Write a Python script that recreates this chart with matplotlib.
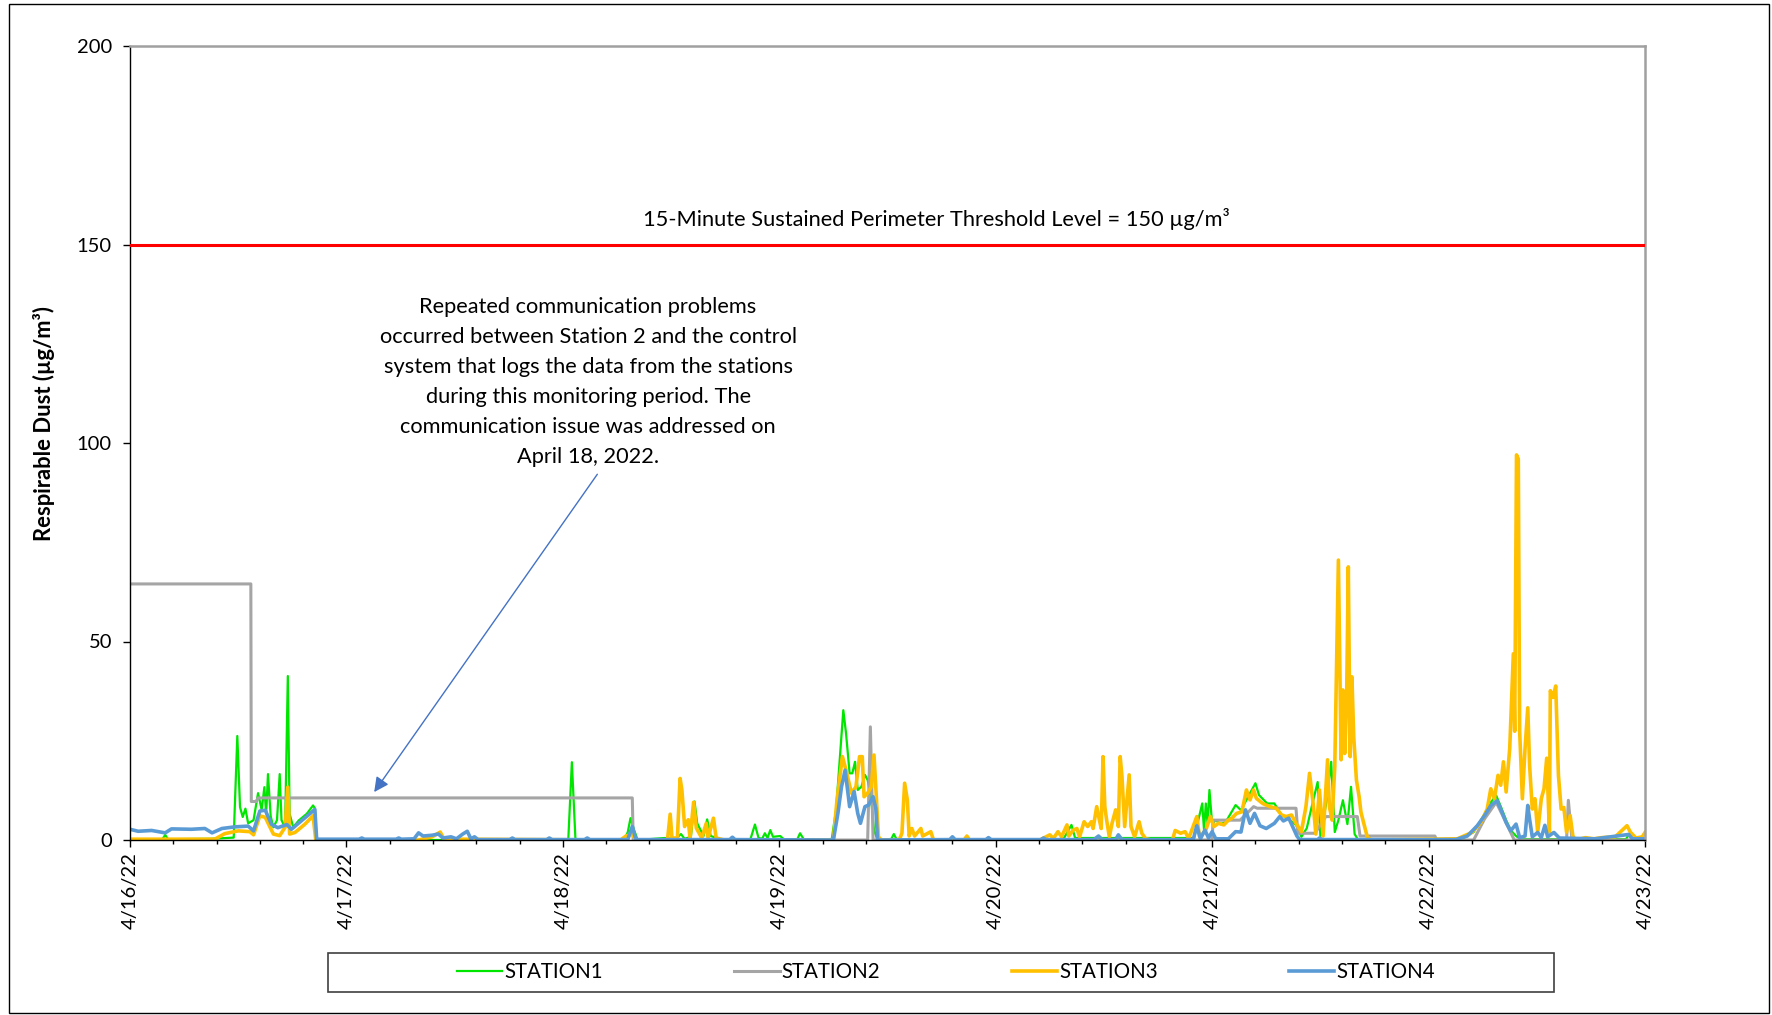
import matplotlib
matplotlib.use('Agg')
import matplotlib.pyplot as plt
from matplotlib.patches import Rectangle
from matplotlib.ticker import MultipleLocator

plt.rcParams['font.family'] = ['Lato', 'DejaVu Sans']

# hours since 4/16/22 00:00, value in ug/m3
station1 = [(0, 0.2), (3.6, 0.2), (3.9, 1.3), (4.2, 0.2), (9.0, 0.3), (11.5, 0.6), (11.9, 26.2), (12.2, 8.3),
            (12.5, 5.8), (12.8, 7.9), (13.1, 4.2), (13.7, 5.0), (14.2, 11.8), (14.6, 7.6), (14.9, 13.3), (15.1, 6.6),
            (15.3, 16.6), (15.6, 6.0), (15.9, 3.2), (16.3, 5.0), (16.6, 16.6), (16.8, 5.0), (17.2, 3.2), (17.5, 41.3),
            (17.7, 6.6), (18.1, 3.2), (18.7, 4.9), (19.6, 6.6), (20.3, 8.7), (20.5, 8.0), (20.7, 0), (48.6, 0),
            (49.0, 19.6), (49.4, 0), (54.8, 0), (55.2, 2.0), (55.5, 5.5), (55.9, 2.5), (56.3, 0), (59.3, 0.5),
            (60.5, 0.2), (61.1, 1.5), (61.5, 0.3), (62.2, 0.8), (62.6, 9.7), (62.9, 4.2), (63.6, 1.0), (64.0, 5.2),
            (64.4, 1.0), (65.5, 0.2), (68.8, 0.2), (69.3, 3.9), (69.7, 0.5), (70.1, 0.3), (70.4, 1.7), (70.7, 0.5),
            (71.0, 2.5), (71.3, 0.8), (72.1, 1.0), (72.5, 0.2), (74.0, 0.2), (74.3, 1.7), (74.7, 0.2), (77.8, 0),
            (78.3, 7.6), (78.7, 20.2), (79.1, 32.7), (79.4, 26.9), (79.8, 16.8), (80.1, 16.8), (80.4, 19.7),
            (80.7, 12.6), (81.1, 13.4), (81.5, 16.4), (81.8, 15.1), (82.2, 10.0), (82.5, 2.5), (82.9, 0),
            (84.4, 0.2), (84.7, 1.5), (85.0, 0.2), (103.5, 0.2), (104.4, 3.8), (104.8, 0.5), (118.0, 0.5),
            (118.9, 9.2), (119.1, 2.5), (119.3, 9.2), (119.5, 4.0), (119.7, 12.6), (120.0, 4.0), (120.4, 5.0),
            (120.9, 4.0), (121.5, 4.5), (122.6, 8.8), (123.2, 7.5), (123.8, 10.1), (124.8, 14.3), (125.2, 11.3),
            (126.1, 9.2), (126.9, 9.2), (127.7, 6.3), (128.6, 5.0), (129.3, 3.8), (129.9, 0.8), (130.5, 3.0),
            (131.0, 8.0), (131.7, 14.6), (132.0, 1.0), (132.4, 6.0), (132.7, 10.0), (133.2, 19.7), (133.6, 2.0),
            (134.0, 5.0), (134.5, 10.0), (135.0, 4.0), (135.4, 13.4), (135.8, 1.5), (136.2, 0), (147.5, 0),
            (149.0, 2.0), (150.2, 6.5), (150.9, 9.5), (151.5, 11.2), (152.0, 8.5), (152.6, 5.0), (153.1, 2.5),
            (153.7, 1.0), (154.2, 0.2), (165.9, 0.2), (166.2, 1.4), (166.6, 0.2), (168, 0.3)]

station2 = [(0, 64.5), (13.4, 64.5), (13.45, 9.7), (14.0, 9.7), (14.2, 10.6), (55.7, 10.6), (55.8, 0), (81.8, 0),
            (82.1, 28.5), (82.4, 0), (120.0, 0), (120.1, 5.0), (123.1, 5.0), (124.6, 8.4), (125.0, 8.0),
            (129.3, 8.0), (129.5, 1.7), (131.4, 1.7), (132.6, 5.9), (136.1, 5.9), (136.4, 1.0), (144.7, 1.0),
            (144.9, 0), (149.0, 0), (150.2, 5.3), (151.5, 9.5), (152.4, 5.3), (153.5, 0), (159.3, 0),
            (159.5, 10.0), (159.9, 0), (168, 0)]

station3 = [(0, 0.2), (9.4, 0.2), (10.5, 1.6), (12.0, 2.3), (13.3, 2.1), (13.7, 1.3), (14.4, 6.1), (15.0, 5.7),
            (15.9, 1.5), (16.6, 1.1), (17.2, 3.2), (17.5, 13.3), (17.7, 1.5), (18.3, 1.9), (19.4, 4.0), (20.3, 6.1),
            (20.6, 0), (32.0, 0), (33.5, 0.8), (34.4, 2.0), (34.8, 0.3), (36.5, 0.2), (54.4, 0), (55.0, 1.0),
            (55.6, 1.5), (56.2, 0), (59.6, 0), (59.9, 6.5), (60.1, 0.5), (60.7, 0.5), (61.0, 15.5), (61.2, 12.6),
            (61.5, 3.4), (61.9, 5.1), (62.1, 0.5), (62.5, 9.5), (62.8, 3.0), (63.4, 0.5), (63.9, 4.2), (64.1, 0.5),
            (64.7, 5.5), (65.0, 0.5), (65.9, 0), (78.0, 0), (78.4, 10.1), (79.0, 21.0), (79.4, 17.6), (80.0, 11.8),
            (80.5, 13.4), (80.9, 21.0), (81.2, 21.0), (81.4, 10.9), (81.8, 11.8), (82.2, 13.4), (82.5, 21.4),
            (82.7, 13.4), (83.0, 0.8), (83.3, 0), (85.3, 0), (85.6, 1.7), (85.9, 14.3), (86.2, 10.1), (86.4, 1.0),
            (86.7, 2.9), (87.0, 1.0), (87.7, 2.9), (87.9, 1.0), (88.8, 2.1), (89.1, 0), (92.5, 0), (92.8, 1.0),
            (93.1, 0), (100.9, 0), (102.0, 1.3), (102.4, 0.4), (102.9, 2.1), (103.3, 0.8), (103.9, 3.8),
            (104.1, 1.0), (104.6, 2.5), (105.0, 2.9), (105.3, 0.8), (105.8, 4.6), (106.2, 3.4), (106.6, 4.6),
            (106.8, 2.9), (107.2, 8.4), (107.5, 5.0), (107.7, 2.9), (107.9, 21.0), (108.1, 8.4), (108.3, 5.0),
            (108.6, 0.8), (108.9, 4.2), (109.3, 7.6), (109.6, 3.4), (109.8, 21.0), (110.0, 16.0), (110.3, 3.4),
            (110.8, 16.4), (111.0, 3.4), (111.4, 0.8), (111.9, 4.6), (112.2, 1.7), (112.6, 0.4), (113.2, 0),
            (115.6, 0), (115.9, 2.4), (116.5, 1.7), (117.0, 2.1), (117.4, 0.4), (118.3, 5.9), (118.6, 0.8),
            (119.3, 2.5), (119.8, 5.9), (120.2, 3.4), (120.7, 4.2), (121.3, 3.8), (121.8, 5.0), (122.2, 5.5),
            (122.7, 6.7), (123.3, 7.1), (123.8, 12.6), (124.2, 10.1), (124.6, 12.6), (124.9, 10.5), (125.6, 9.2),
            (126.4, 8.4), (127.1, 8.0), (127.7, 6.3), (128.2, 5.9), (128.8, 6.3), (129.3, 4.2), (129.9, 2.1),
            (130.4, 8.4), (130.8, 16.8), (131.2, 9.2), (131.5, 1.5), (131.9, 12.6), (132.3, 1.0), (132.8, 20.2),
            (133.0, 8.4), (133.3, 5.0), (133.6, 18.5), (134.0, 70.5), (134.3, 20.2), (134.5, 37.8), (134.7, 21.8),
            (134.9, 33.6), (135.1, 68.8), (135.3, 21.0), (135.5, 41.1), (135.7, 26.0), (136.0, 15.1), (136.3, 10.9),
            (136.5, 7.0), (136.9, 3.4), (137.2, 0.8), (137.6, 0), (147.2, 0.3), (148.8, 1.9), (149.8, 4.4),
            (150.5, 7.8), (150.9, 12.9), (151.3, 10.4), (151.7, 16.3), (152.0, 13.8), (152.3, 19.7), (152.6, 12.1),
            (153.0, 23.1), (153.4, 46.9), (153.55, 27.4), (153.75, 97.0), (153.95, 96.0), (154.1, 27.4),
            (154.4, 10.4), (154.7, 23.1), (155.0, 33.3), (155.2, 18.9), (155.5, 7.8), (155.8, 10.4), (156.1, 1.9),
            (156.5, 10.4), (156.8, 12.9), (157.1, 20.6), (157.4, 2.0), (157.5, 37.6), (157.8, 35.9), (158.1, 38.8),
            (158.4, 16.3), (158.7, 7.8), (159.0, 8.2), (159.3, 2.0), (159.7, 6.1), (160.0, 1.0), (160.3, 0),
            (161.4, 0.6), (162.3, 0.3), (163.2, 0.6), (164.7, 0.8), (166.0, 3.6), (166.4, 1.9), (167.0, 0.5),
            (167.7, 0.8), (168.0, 1.9)]

station4 = [(0, 2.7), (0.9, 2.2), (2.4, 2.4), (3.9, 1.8), (4.6, 2.8), (6.8, 2.7), (8.3, 2.9), (9.1, 1.8),
            (10.2, 2.9), (11.6, 3.3), (13.1, 3.5), (13.7, 2.3), (14.4, 7.3), (15.0, 7.5), (15.7, 3.9), (16.4, 3.1),
            (17.4, 3.9), (17.9, 2.7), (19.4, 5.6), (20.5, 7.7), (20.7, 0.2), (25.4, 0.2), (25.7, 0.5), (26.0, 0.2),
            (29.5, 0.2), (29.8, 0.5), (30.1, 0.2), (31.5, 0.3), (32.0, 1.8), (32.5, 1.0), (33.5, 1.2), (34.2, 1.5),
            (34.7, 0.5), (35.6, 0.8), (36.2, 0.3), (36.9, 1.5), (37.4, 2.2), (37.8, 0.3), (38.2, 0.8), (38.6, 0.1),
            (42.1, 0.1), (42.4, 0.5), (42.7, 0.1), (46.2, 0.1), (46.5, 0.5), (46.8, 0.1), (50.4, 0.1), (50.7, 0.5),
            (51.0, 0.1), (55.2, 0.1), (55.7, 3.4), (56.1, 0.1), (66.5, 0.1), (66.8, 0.7), (67.1, 0.1), (78.0, 0),
            (78.5, 6.7), (78.9, 13.4), (79.3, 17.6), (79.8, 8.4), (80.3, 12.2), (80.7, 6.7), (81.0, 4.2),
            (81.5, 8.4), (81.9, 8.8), (82.4, 10.9), (82.7, 8.0), (82.9, 0), (90.9, 0.1), (91.2, 0.8), (91.5, 0.1),
            (94.9, 0.1), (95.2, 0.6), (95.5, 0.1), (101.0, 0.1), (101.3, 0.5), (101.6, 0.1), (106.9, 0.1),
            (107.4, 1.0), (107.8, 0.1), (109.3, 0.1), (109.6, 1.3), (110.0, 0.1), (117.9, 0.1), (118.3, 3.6),
            (118.7, 0.3), (119.2, 2.5), (119.6, 0.5), (120.0, 2.1), (120.4, 0.3), (121.8, 0.3), (122.6, 2.1),
            (123.2, 2.0), (123.7, 7.6), (124.2, 4.2), (124.7, 6.7), (125.3, 3.6), (126.0, 2.9), (126.9, 4.2),
            (127.5, 5.9), (127.9, 4.8), (128.5, 5.5), (129.0, 3.0), (129.4, 1.0), (129.7, 0.1), (131.7, 0.1),
            (131.9, 0.5), (132.2, 0.1), (147.0, 0.1), (148.3, 1.0), (149.4, 3.6), (150.2, 6.1), (150.9, 8.7),
            (151.6, 9.9), (152.0, 7.8), (152.6, 4.4), (153.1, 2.3), (153.7, 4.0), (154.1, 0.6), (154.7, 1.0),
            (155.0, 8.7), (155.2, 5.3), (155.5, 0.8), (156.1, 1.9), (156.5, 0.6), (156.9, 3.7), (157.2, 0.8),
            (157.9, 1.9), (158.5, 0.5), (162.5, 0.3), (166.2, 1.4), (166.6, 0.3), (168.0, 0.3)]

names = ['STATION1', 'STATION2', 'STATION3', 'STATION4']
colors = ['#00E600', '#A5A5A5', '#FFC000', '#5B9BD5']
widths = [1.6, 2.2, 2.6, 2.6]
threshold = 150
day_labels = ['4/16/22', '4/17/22', '4/18/22', '4/19/22', '4/20/22', '4/21/22', '4/22/22', '4/23/22']

fig = plt.figure(figsize=(17.72, 10.15), dpi=100)
ax = fig.add_axes([130 / 1772, 1 - 840 / 1015, 1515 / 1772, 794 / 1015])

for series, name, c, w in zip([station1, station2, station3, station4], names, colors, widths):
    hrs = [p[0] for p in series]
    vals = [p[1] for p in series]
    ax.plot(hrs, vals, color=c, lw=w, label=name)

ax.axhline(threshold, color='#FF0000', lw=2.2, zorder=5)
ax.text(89.4, 156.5, '15-Minute Sustained Perimeter Threshold Level = 150 µg/m³',
        ha='center', va='center', fontsize=15.7)

ax.text(50.8, 115.3, 'Repeated communication problems\noccurred between Station 2 and the control\n'
        'system that logs the data from the stations\nduring this monitoring period. The\n'
        'communication issue was addressed on\nApril 18, 2022.',
        ha='center', va='center', fontsize=15.7, linespacing=1.62)
ax.annotate('', xy=(26.9, 11.5), xytext=(52.0, 92.7),
            arrowprops=dict(arrowstyle='-|>', color='#4472C4', lw=1, mutation_scale=22))

ax.set_xlim(0, 168)
ax.set_ylim(0, 200)
ax.set_yticks([0, 50, 100, 150, 200])
ax.set_xticks(range(0, 169, 24))
ax.set_xticklabels(day_labels, rotation=90)
ax.xaxis.set_minor_locator(MultipleLocator(4.8))
ax.tick_params(axis='both', labelsize=14.5, direction='out', length=5, width=1, color='black')
ax.tick_params(axis='y', pad=8)
ax.tick_params(axis='x', which='minor', length=3, width=1)
ax.set_ylabel('Respirable Dust (µg/m³)', fontsize=15.8, fontweight='bold')
ax.yaxis.set_label_coords(-0.0492, 0.524)

for s in ['top', 'right']:
    ax.spines[s].set_color('#A0A0A0')
    ax.spines[s].set_linewidth(1.8)
for s in ['left', 'bottom']:
    ax.spines[s].set_color('black')
    ax.spines[s].set_linewidth(1)

handles, labels = ax.get_legend_handles_labels()
fig.legend(handles, labels, loc='center', bbox_to_anchor=(946 / 1772, 1 - 972 / 1015), ncol=4,
           frameon=False, fontsize=14.8, handlelength=2.2, handletextpad=0.1, columnspacing=6.4)
fig.add_artist(Rectangle((328 / 1772, 1 - 992 / 1015), 1226 / 1772, 39 / 1015, transform=fig.transFigure,
                         fill=False, edgecolor='#404040', lw=1.2))
fig.add_artist(Rectangle((9 / 1772, 2 / 1015), 1760 / 1772, 1009 / 1015, transform=fig.transFigure,
                         fill=False, edgecolor='black', lw=1))

fig.savefig('out.png', dpi=100)
